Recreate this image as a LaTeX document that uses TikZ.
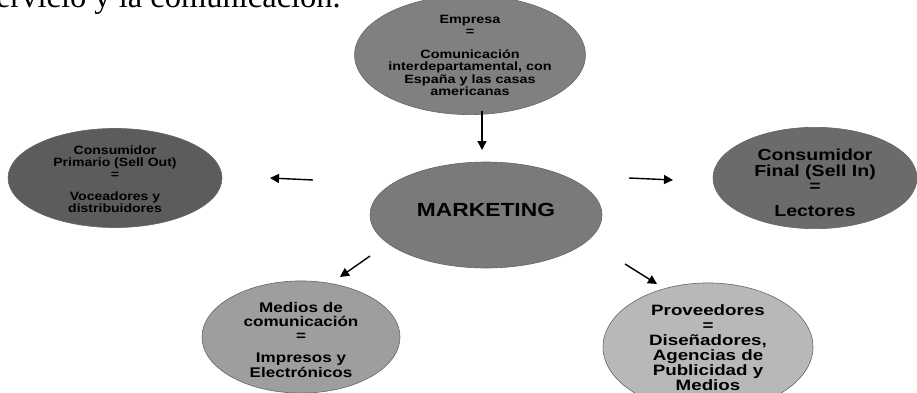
\documentclass[tikz,border=0pt]{standalone}
\usepackage{fontspec}
\setmainfont{Liberation Serif}
\newfontfamily\heavy{Liberation Sans}
\usetikzlibrary{shapes.geometric,arrows.meta}

% a block of centred lines, stretched sideways and nudged down
\newcommand{\widelines}[3][0pt]{\raisebox{-#1}[\height][\depth]{\scalebox{#2}[1]{\begin{tabular}{@{}c@{}}#3\end{tabular}}}}

\begin{document}
\begin{tikzpicture}[x=1pt,y=-1pt,
  blob/.style={ellipse, inner sep=0pt, draw=black!60, line width=0.6pt,
               text=black, align=center},
  flow/.style={line width=1.4pt, -{Triangle[length=9pt,width=9pt]}}]
\useasboundingbox (0,0) rectangle (917,393);

% running text of the page above the chart
\node[anchor=base east, inner sep=0pt, font=\fontsize{32.5}{37}\selectfont]
  (prose) at (341,8) {servicio y la comunicación.};

% central block
\node[blob, fill=black!52, minimum width=232, minimum height=106,
      font=\heavy\bfseries\fontsize{19}{22}\selectfont] (mkt) at (486,215)
  {\widelines[-3pt]{1.2}{MARKETING}};

% surrounding blocks
\node[blob, fill=black!50, minimum width=196, minimum height=102,
      font=\heavy\bfseries\fontsize{12}{12}\selectfont] (emp) at (470,55)
  {\widelines[2pt]{1.2}{Empresa\\=\\[11pt]Comunicación\\interdepartamental, con\\España y las casas\\americanas}};

\node[blob, fill=black!64, minimum width=214, minimum height=94,
      font=\heavy\bfseries\fontsize{12}{11.5}\selectfont] (prim) at (115,178)
  {\widelines[3pt]{1.17}{Consumidor\\Primario (Sell Out)\\=\\[10pt]Voceadores y\\distribuidores}};

\node[blob, fill=black!58, minimum width=204, minimum height=94,
      font=\heavy\bfseries\fontsize{16}{15}\selectfont] (fin) at (815,178)
  {\widelines[7pt]{1.22}{Consumidor\\Final (Sell In)\\=\\[9pt]Lectores}};

\node[blob, fill=black!38, minimum width=198, minimum height=110,
      font=\heavy\bfseries\fontsize{14}{14}\selectfont] (med) at (301,337)
  {\widelines[5pt]{1.22}{Medios de\\comunicación\\=\\[8pt]Impresos y\\Electrónicos}};

\node[blob, fill=black!28, minimum width=210, minimum height=108,
      font=\heavy\bfseries\fontsize{15}{14.5}\selectfont] (prov) at (708,347)
  {\widelines[3pt]{1.25}{Proveedores\\=\\Diseñadores,\\Agencias de\\Publicidad y\\Medios}};

% arrow ends, clear of the ellipses
\coordinate (d1) at (482,111);  \coordinate (d2) at (482,150);
\coordinate (l1) at (313,180);  \coordinate (l2) at (270,178);
\coordinate (r1) at (629,178);  \coordinate (r2) at (673,180);
\coordinate (s1) at (370,256);  \coordinate (s2) at (340,277);
\coordinate (e1) at (625,264);  \coordinate (e2) at (657,284);

\draw[flow] (d1) -- (d2);
\draw[flow] (l1) -- (l2);
\draw[flow] (r1) -- (r2);
\draw[flow] (s1) -- (s2);
\draw[flow] (e1) -- (e2);
\end{tikzpicture}
\end{document}
